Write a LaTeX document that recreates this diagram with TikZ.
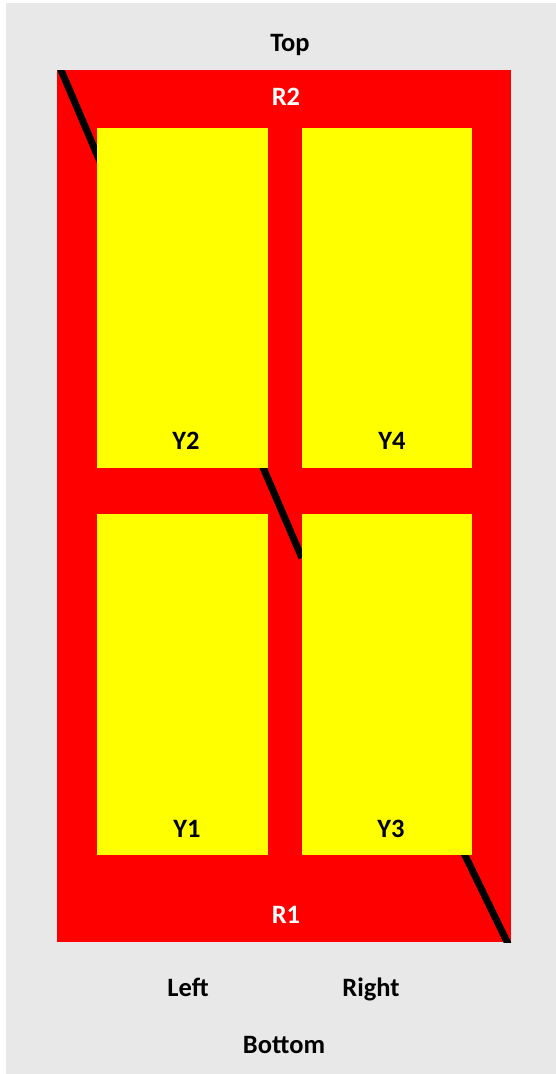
\documentclass[tikz,border=0pt]{standalone}
\usepackage{fontspec}
\setmainfont{Carlito}
\definecolor{panelgray}{HTML}{E8E8E8}
\definecolor{framered}{HTML}{FF0000}
\definecolor{paneyellow}{HTML}{FFFF00}
\begin{document}
\begin{tikzpicture}[x=1pt,y=-1pt,
    lbl/.style={font=\bfseries\fontsize{26.5}{30}\selectfont, anchor=base, inner sep=0pt},
    pane/.style={fill=paneyellow},
    cut/.style={line width=7pt, draw=black}]
  \useasboundingbox (0,0) rectangle (556,1074);
  \fill[white] (0,0) rectangle (556,1074);
  \fill[panelgray] (6,3) rectangle (556,1074);
  % red frame
  \fill[framered] (57,70) rectangle (511,942);
  % black cuts, under the yellow panes
  \coordinate (a1) at (57.6,62);  \coordinate (a2) at (101.5,165);
  \coordinate (b1) at (259,458);  \coordinate (b2) at (302,558);
  \coordinate (c1) at (460,845);  \coordinate (c2) at (512,952);
  \begin{scope}
    \clip (57,70) rectangle (511,942);
    \draw[cut] (a1) -- (a2);
    \draw[cut] (b1) -- (b2);
    \draw[cut] (c1) -- (c2);
  \end{scope}
  % yellow panes
  \fill[pane] (97,128)  rectangle (268,468);
  \fill[pane] (302,128) rectangle (472,468);
  \fill[pane] (97,514)  rectangle (268,855);
  \fill[pane] (302,514) rectangle (472,855);
  % labels
  \node[lbl] (top) at (290,51) {Top};
  \node[lbl, text=white] (r2) at (286,105) {R2};
  \node[lbl] (y2) at (186,449) {Y2};
  \node[lbl] (y4) at (392,449) {Y4};
  \node[lbl] (y1) at (187,837) {Y1};
  \node[lbl] (y3) at (391,837) {Y3};
  \node[lbl, text=white] (r1) at (286,923) {R1};
  \node[lbl] (left) at (188,996) {Left};
  \node[lbl] (right) at (371,996) {Right};
  \node[lbl] (bottom) at (284,1053) {Bottom};
\end{tikzpicture}
\end{document}
